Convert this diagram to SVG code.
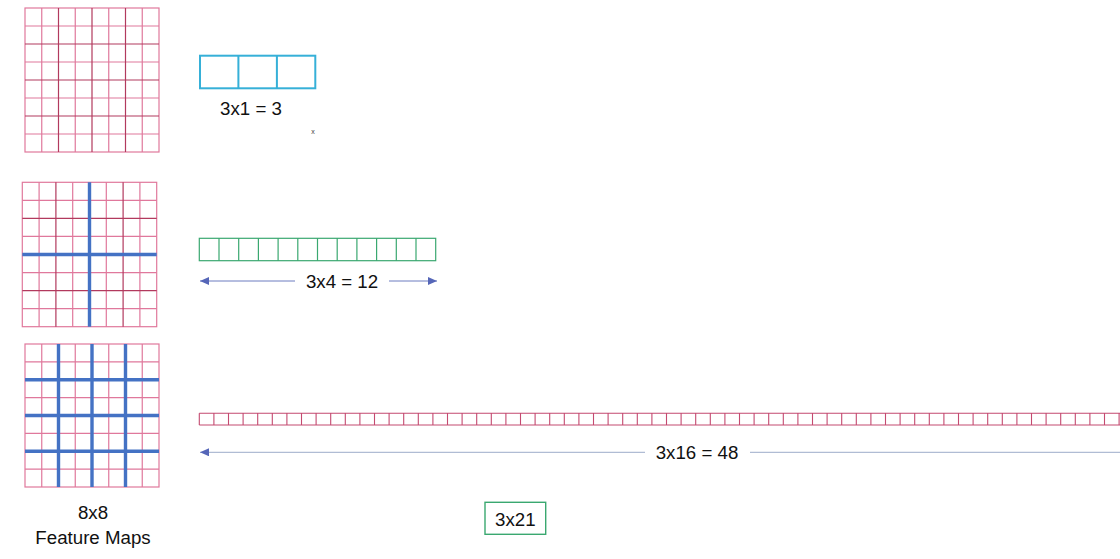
<svg xmlns="http://www.w3.org/2000/svg" width="1120" height="559" viewBox="0 0 1120 559">
<defs>
<style>
.lbl{font-family:"Liberation Sans",Arial,sans-serif;font-size:18.7px;fill:#111}
.g1{fill:none;stroke:#e0789c;stroke-width:1.2}
.g2{fill:none;stroke:#b23a5e;stroke-width:1.2}
.blue{fill:none;stroke:#4472c4;stroke-width:3.4}
.cyan{fill:none;stroke:#36b0d8;stroke-width:2}
.green{fill:none;stroke:#3aa870;stroke-width:1.2}
.red{fill:none;stroke:#c44a70;stroke-width:1.1}
.arr{fill:none;stroke:#6c7cc0;stroke-width:1}
.arr2{fill:none;stroke:#b0bcd4;stroke-width:1.2}
</style>
<marker id="ah" markerWidth="10" markerHeight="8" refX="9" refY="4" orient="auto-start-reverse" markerUnits="userSpaceOnUse">
<path d="M0,0 L9,4 L0,8 Z" fill="#5566b8"/>
</marker>
</defs>
<rect width="1120" height="559" fill="#ffffff"/>

<g id="fm1">
<rect x="25" y="8" width="134" height="144" class="g1"/>
<path class="g1" d="M41.75,8V152M75.25,8V152M108.75,8V152M142.25,8V152M25,26H159M25,62H159M25,98H159M25,134H159"/>
<path class="g2" d="M58.5,8V152M92,8V152M125.5,8V152M25,44H159M25,80H159M25,116H159"/>
</g>

<g id="fm2">
<rect x="22.3" y="182.3" width="134.4" height="144.4" class="g1"/>
<path class="g1" d="M39.1,182.3V326.7M72.7,182.3V326.7M106.3,182.3V326.7M139.9,182.3V326.7M22.3,200.35H156.7M22.3,236.45H156.7M22.3,272.55H156.7M22.3,308.65H156.7"/>
<path class="g2" d="M55.9,182.3V326.7M123.1,182.3V326.7M22.3,218.4H156.7M22.3,290.6H156.7"/>
<path class="blue" d="M89.5,182.3V326.7M22.3,254.5H156.7"/>
</g>

<g id="fm3">
<rect x="25" y="344" width="134" height="143" class="g1"/>
<path class="g1" d="M41.75,344V487M75.25,344V487M108.75,344V487M142.25,344V487M25,361.875H159M25,397.625H159M25,433.375H159M25,469.125H159"/>
<path class="blue" d="M58.5,344V487M92,344V487M125.5,344V487M25,379.75H159M25,415.5H159M25,451.25H159"/>
</g>

<g id="fm-label">
<text class="lbl" x="93" y="519" text-anchor="middle">8x8</text>
<text class="lbl" x="93" y="544" text-anchor="middle">Feature Maps</text>
</g>

<g id="v3">
<rect x="200" y="55.7" width="115.3" height="32.6" class="cyan"/>
<path class="cyan" d="M238.4,55.7V88.3M276.9,55.7V88.3"/>
<text class="lbl" x="251" y="115" text-anchor="middle">3x1 = 3</text>
<text x="313" y="133.5" font-family="Liberation Sans,Arial,sans-serif" font-size="7" fill="#444" text-anchor="middle">x</text>
</g>

<g id="v12">
<rect x="199.3" y="238.3" width="236.4" height="22.4" class="green"/>
<path class="green" d="M219,238.3V260.7M238.7,238.3V260.7M258.4,238.3V260.7M278.1,238.3V260.7M297.8,238.3V260.7M317.5,238.3V260.7M337.2,238.3V260.7M356.9,238.3V260.7M376.6,238.3V260.7M396.3,238.3V260.7M416,238.3V260.7"/>
<text class="lbl" x="342" y="288" text-anchor="middle">3x4 = 12</text>
</g>

<g id="v48">
<path class="red" d="M199.3,413.3H1121M199.3,425H1121M199.3,413.3V425M213.9,413.3V425M228.5,413.3V425M243.1,413.3V425M257.7,413.3V425M272.3,413.3V425M286.9,413.3V425M301.5,413.3V425M316.1,413.3V425M330.7,413.3V425M345.3,413.3V425M359.9,413.3V425M374.5,413.3V425M389.1,413.3V425M403.7,413.3V425M418.3,413.3V425M432.9,413.3V425M447.5,413.3V425M462.1,413.3V425M476.7,413.3V425M491.3,413.3V425M505.9,413.3V425M520.5,413.3V425M535.1,413.3V425M549.7,413.3V425M564.3,413.3V425M578.9,413.3V425M593.5,413.3V425M608.1,413.3V425M622.7,413.3V425M637.3,413.3V425M651.9,413.3V425M666.5,413.3V425M681.1,413.3V425M695.7,413.3V425M710.3,413.3V425M724.9,413.3V425M739.5,413.3V425M754.1,413.3V425M768.7,413.3V425M783.3,413.3V425M797.9,413.3V425M812.5,413.3V425M827.1,413.3V425M841.7,413.3V425M856.3,413.3V425M870.9,413.3V425M885.5,413.3V425M900.1,413.3V425M914.7,413.3V425M929.3,413.3V425M943.9,413.3V425M958.5,413.3V425M973.1,413.3V425M987.7,413.3V425M1002.3,413.3V425M1016.9,413.3V425M1031.5,413.3V425M1046.1,413.3V425M1060.7,413.3V425M1075.3,413.3V425M1089.9,413.3V425M1104.5,413.3V425M1119.1,413.3V425"/>
<text class="lbl" x="697" y="459" text-anchor="middle">3x16 = 48</text>
</g>

<g id="total">
<rect x="485" y="502.3" width="60.7" height="32" fill="none" stroke="#3aa870" stroke-width="1.4"/>
<text class="lbl" x="515.3" y="526" text-anchor="middle">3x21</text>
</g>

<g id="connectors">
<line class="arr" x1="200" y1="281" x2="295" y2="281" marker-start="url(#ah)"/>
<line class="arr" x1="389" y1="281" x2="437" y2="281" marker-end="url(#ah)"/>
<line class="arr2" x1="200" y1="452.3" x2="645" y2="452.3" marker-start="url(#ah)"/>
<line class="arr2" x1="750" y1="452.3" x2="1120" y2="452.3"/>
</g>
</svg>
